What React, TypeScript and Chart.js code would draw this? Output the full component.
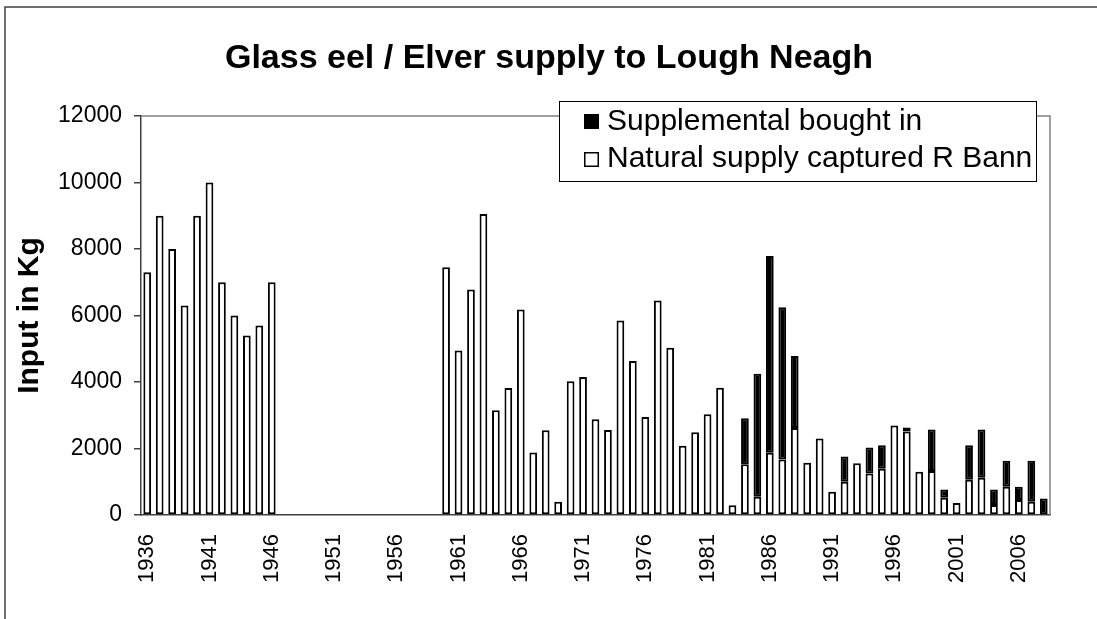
import React, { useEffect, useRef } from "react";
import { Chart, registerables } from "chart.js";

Chart.register(...registerables);

const firstYear = 1936;
const lastYear = 2008;
const years: string[] = [];
for (let y = firstYear; y <= lastYear; y++) years.push(String(y));

const naturalSupply: (number | null)[] = [
  // 1936-1946
  7300, 9000, 8000, 6300, 9000, 10000, 7000, 6000, 5400, 5700, 7000,
  // 1947-1959
  null, null, null, null, null, null, null, null, null, null, null, null, null,
  // 1960-1969
  7450, 4950, 6780, 9050, 3150, 3820, 6180, 1880, 2550, 400,
  // 1970-1979
  4020, 4150, 2880, 2560, 5850, 4630, 2950, 6450, 5030, 2080,
  // 1980-1989
  2490, 3030, 3830, 290, 1530, 550, 1870, 1670, 2620, 1570,
  // 1990-1999
  2300, 700, 1000, 1560, 1250, 1390, 2690, 2510, 1300, 1320,
  // 2000-2008
  520, 360, 1060, 1120, 300, 850, 450, 400, null,
];

const supplemental: (number | null)[] = [
  // 1936-1946
  null, null, null, null, null, null, null, null, null, null, null,
  // 1947-1959
  null, null, null, null, null, null, null, null, null, null, null, null, null,
  // 1960-1969
  null, null, null, null, null, null, null, null, null, null,
  // 1970-1979
  null, null, null, null, null, null, null, null, null, null,
  // 1980-1989
  null, null, null, null, 1380, 3700, 5920, 4580, 2160, null,
  // 1990-1999
  null, null, 760, null, 780, 710, null, 120, null, 1250,
  // 2000-2008
  250, null, 1040, 1450, 470, 780, 400, 1230, 500,
];

const yTicks = [0, 2000, 4000, 6000, 8000, 10000, 12000];
const titleText = "Glass eel / Elver supply to Lough Neagh";
const yTitle = "Input in Kg";
const legendSupp = "Supplemental bought in";
const legendNatural = "Natural supply captured R Bann";

const FONT = "'Liberation Sans', Arial, sans-serif";

const decorPlugin = {
  id: "decor",
  beforeDraw(chart: any) {
    const ctx = chart.ctx;
    ctx.save();
    ctx.fillStyle = "#ffffff";
    ctx.fillRect(0, 0, chart.width, chart.height);
    ctx.strokeStyle = "#404040";
    ctx.lineWidth = 1.5;
    ctx.beginPath();
    ctx.moveTo(5, chart.height + 2);
    ctx.lineTo(5, 7);
    ctx.lineTo(chart.width + 2, 7);
    ctx.stroke();
    ctx.restore();
  },
  beforeDatasetsDraw(chart: any) {
    const { ctx, chartArea } = chart;
    ctx.save();
    ctx.strokeStyle = "#808080";
    ctx.lineWidth = 1.5;
    ctx.beginPath();
    ctx.moveTo(chartArea.left, chartArea.top);
    ctx.lineTo(chartArea.right, chartArea.top);
    ctx.lineTo(chartArea.right, chartArea.bottom);
    ctx.stroke();
    ctx.restore();
  },
  afterDraw(chart: any) {
    const ctx = chart.ctx;
    ctx.save();
    ctx.fillStyle = "#000";
    ctx.font = `bold 34px ${FONT}`;
    ctx.textAlign = "center";
    ctx.textBaseline = "alphabetic";
    ctx.fillText(titleText, 549, 68);
    const bx = 559, by = 101, bw = 477, bh = 80;
    ctx.fillStyle = "#fff";
    ctx.fillRect(bx, by, bw, bh);
    ctx.strokeStyle = "#000";
    ctx.lineWidth = 1;
    ctx.strokeRect(bx + 0.5, by + 0.5, bw, bh);
    ctx.font = `30px ${FONT}`;
    ctx.textAlign = "left";
    ctx.fillStyle = "#000";
    ctx.fillRect(584, 114, 15, 15);
    ctx.fillText(legendSupp, 607, 130);
    ctx.fillStyle = "#fff";
    ctx.fillRect(584, 152, 15, 15);
    ctx.lineWidth = 1.5;
    ctx.strokeRect(584.75, 152.75, 13.5, 13.5);
    ctx.fillStyle = "#000";
    ctx.fillText(legendNatural, 607, 167);
    ctx.restore();
  },
};

export default function App() {
  const ref = useRef<HTMLCanvasElement | null>(null);
  useEffect(() => {
    if (!ref.current) return;
    const chart = new Chart(ref.current, {
      type: "bar",
      data: {
        labels: years,
        datasets: [
          {
            label: legendNatural,
            data: naturalSupply,
            backgroundColor: "#ffffff",
            borderColor: "#000000",
            borderWidth: 2,
            borderSkipped: false,
            barPercentage: 0.62,
            categoryPercentage: 1,
          },
          {
            label: legendSupp,
            data: supplemental,
            backgroundColor: "#000000",
            borderColor: "#000000",
            borderWidth: 2,
            borderSkipped: false,
            barPercentage: 0.62,
            categoryPercentage: 1,
          },
        ],
      },
      options: {
        responsive: false,
        animation: false,
        layout: { padding: { top: 116, right: 47, bottom: 0, left: 0 } },
        plugins: {
          legend: { display: false },
          title: { display: false },
          tooltip: { enabled: false },
        },
        scales: {
          x: {
            stacked: true,
            grid: { display: false },
            border: { display: true, color: "#404040", width: 1.5 },
            ticks: {
              autoSkip: false,
              minRotation: 90,
              maxRotation: 90,
              padding: 11,
              color: "#000",
              font: { family: FONT, size: 22 },
              callback: (_v: any, i: number) =>
                (Number(years[i]) - firstYear) % 5 === 0 ? years[i] : "",
            },
            afterFit: (s: any) => {
              s.height = 104;
            },
          },
          y: {
            stacked: true,
            min: 0,
            max: 12000,
            afterBuildTicks: (s: any) => {
              s.ticks = yTicks.map((v) => ({ value: v }));
            },
            grid: {
              display: true,
              drawOnChartArea: false,
              drawTicks: true,
              tickLength: 7,
              color: "#404040",
              lineWidth: 1.5,
            },
            border: { display: true, color: "#404040", width: 1.5 },
            ticks: {
              padding: 12,
              color: "#000",
              font: { family: FONT, size: 23 },
              callback: (v: any) => String(v),
            },
            title: {
              display: true,
              text: yTitle,
              color: "#000",
              font: { family: FONT, size: 30, weight: "bold" },
              padding: { top: 12, bottom: 0 },
            },
            afterFit: (s: any) => {
              s.width = 141;
            },
          },
        },
      },
      plugins: [decorPlugin],
    } as any);
    return () => chart.destroy();
  }, []);
  return (
    <div style={{ position: "fixed", left: 0, top: 0, width: 1097, height: 619, background: "#fff" }}>
      <canvas ref={ref} width={1097} height={619} style={{ display: "block" }} />
    </div>
  );
}
